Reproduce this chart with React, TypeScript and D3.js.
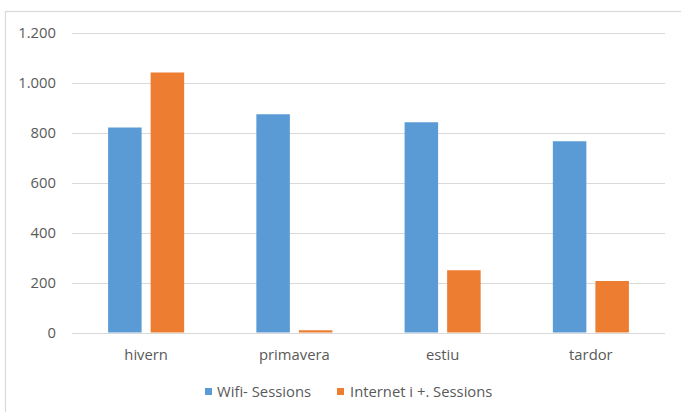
import React from "react";
import * as d3 from "d3";

const categories = ["hivern", "primavera", "estiu", "tardor"];
const seriesNames = ["Wifi- Sessions", "Internet i +. Sessions"];
const wifiSessions = [820, 873, 841, 765];
const internetSessions = [1040, 9, 249, 206];
const yTicks = [0, 200, 400, 600, 800, 1000, 1200];
const colors = ["#5B9BD5", "#ED7D31"];

const W = 681;
const H = 412;
const left = 72;
const right = 665;
const top = 32.5;
const bottom = 332.5;
const FONT = "'Open Sans', sans-serif";
const TEXT = "#595959";
const FS = 14.8;

const fmt = (v: number) => d3.format(",")(v).replace(/,/g, ".");

export default function App() {
  const x0 = d3
    .scaleBand<string>()
    .domain(categories)
    .range([left, right])
    .paddingInner(0.487)
    .paddingOuter(0.2435);
  const x1 = d3
    .scaleBand<string>()
    .domain(seriesNames)
    .range([0, x0.bandwidth()])
    .paddingInner(0.212)
    .paddingOuter(0);
  const y = d3.scaleLinear().domain([0, 1200]).range([bottom, top]);
  const values = [wifiSessions, internetSessions];

  return (
    <svg
      width={W}
      height={H}
      style={{ position: "absolute", left: 0, top: 0, background: "#fff" }}
      fontFamily={FONT}
    >
      <rect x={0} y={0} width={W} height={H} fill="#fff" />
      <rect x={5.5} y={11.5} width={W + 20} height={H + 20} fill="#fff" stroke="#D9D9D9" strokeWidth={1.2} />
      {yTicks.map((t) => (
        <g key={t}>
          <line x1={left} x2={right} y1={Math.round(y(t)) + 0.5} y2={Math.round(y(t)) + 0.5} stroke="#D9D9D9" strokeWidth={1} />
          <text x={56} y={y(t)} dy="0.35em" textAnchor="end" fontSize={FS} fill={TEXT}>
            {fmt(t)}
          </text>
        </g>
      ))}
      {categories.map((c, i) => (
        <g key={c} transform={`translate(${x0(c)},0)`}>
          {seriesNames.map((s, j) => (
            <rect
              key={s}
              x={x1(s)}
              y={y(values[j][i])}
              width={x1.bandwidth()}
              height={y(0) - y(values[j][i])}
              fill={colors[j]}
            />
          ))}
          <text x={x0.bandwidth() / 2} y={355} dy="0.35em" textAnchor="middle" fontSize={FS} fill={TEXT}>
            {c}
          </text>
        </g>
      ))}
      <g>
        <rect x={205} y={388} width={7} height={7} fill={colors[0]} />
        <text x={217} y={392} dy="0.35em" fontSize={FS} fill={TEXT}>
          {seriesNames[0]}
        </text>
        <rect x={337} y={388} width={7} height={7} fill={colors[1]} />
        <text x={350} y={392} dy="0.35em" fontSize={FS} fill={TEXT}>
          {seriesNames[1]}
        </text>
      </g>
    </svg>
  );
}
